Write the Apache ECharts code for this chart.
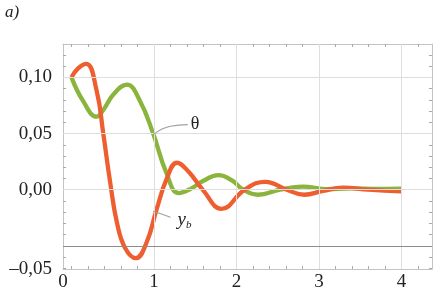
<!DOCTYPE html>
<html><head><meta charset="utf-8">
<script src="https://cdn.jsdelivr.net/npm/echarts@6/dist/echarts.min.js"></script>
<style>html,body{margin:0;padding:0;background:#fff}#c{width:436px;height:292px}</style>
</head><body><div id="c"></div>
<script>
// ---- data ----
const thetaT = [0, 0.14, 0.305, 0.385, 0.51, 0.67, 0.83, 0.99, 1.15, 1.3, 1.45, 1.6, 1.78, 1.95, 2.08, 2.26, 2.53, 2.8, 3.1, 3.4, 3.7, 4.0];
const thetaV = [0.100, 0.079, 0.065, 0.071, 0.085, 0.0935, 0.079, 0.050, 0.015, -0.003, 0.001, 0.008, 0.013, 0.008, 0.000, -0.0045, 0.000, 0.0027, 0.0005, 0.0012, 0.0008, 0.001];
const ybT = [0, 0.08, 0.18, 0.305, 0.385, 0.47, 0.55, 0.65, 0.78, 0.91, 1.03, 1.15, 1.28, 1.42, 1.59, 1.82, 2.1, 2.35, 2.61, 2.82, 3.05, 3.29, 3.6, 4.0];
const ybV = [0.100, 0.108, 0.112, 0.088, 0.050, 0.006, -0.029, -0.052, -0.061, -0.047, -0.018, 0.009, 0.024, 0.016, 0.000, -0.017, 0.000, 0.007, 0.000, -0.0045, -0.001, 0.0018, 0.000, -0.0015];

const xTickLabels = ['0', '1', '2', '3', '4'];
const yTickLabels = ['0,10', '0,05', '0,00', '\u20130,05'];
const xGridValues = [1, 2, 3, 4];
const yGridValues = [0.10, 0.05, 0.00];
const yRefValue = -0.05;
const xMin = -0.103, xMax = 4.37, yMin = -0.0706, yMax = 0.1297;

// In the reference the "0" and "–0,05" labels sit at the axis ends.
const xLabelPos = [xMin, 1, 2, 3, 4];
const yLabelPos = [0.10, 0.05, 0.00, yMin];

function steps(a, b, s) { const r = []; for (let v = a; v <= b + 1e-9; v += s) r.push(Math.round(v * 1000) / 1000); return r; }
const xTicks = steps(0, 4.2, 0.2);
const yTicks = steps(-0.07, 0.12, 0.01);

function pickLabel(pos, labels) {
  return function (v) { for (let i = 0; i < pos.length; i++) if (Math.abs(pos[i] - v) < 1e-6) return labels[i]; return ''; };
}
const zip = (a, b) => a.map((t, i) => [t, b[i]]);

const font = '"Liberation Serif", "Times New Roman", Times, serif';
const frame = '#c4c4c4';
function xAx(position, labels) {
  return {
    type: 'value', min: xMin, max: xMax, position: position,
    axisLine: { show: true, onZero: false, lineStyle: { color: frame, width: 1 } },
    axisTick: { show: true, inside: true, length: 3, customValues: xTicks, lineStyle: { color: '#aaa' } },
    axisLabel: labels ? { show: true, customValues: xLabelPos, formatter: pickLabel(xLabelPos, xTickLabels), fontFamily: font, fontSize: 19, color: '#222', margin: 4 } : { show: false },
    splitLine: { show: false }
  };
}
function yAx(position, labels) {
  return {
    type: 'value', min: yMin, max: yMax, position: position,
    axisLine: { show: true, onZero: false, lineStyle: { color: frame, width: 1 } },
    axisTick: { show: true, inside: true, length: 3, customValues: yTicks, lineStyle: { color: '#aaa' } },
    axisLabel: labels ? { show: true, customValues: yLabelPos, formatter: pickLabel(yLabelPos, yTickLabels), fontFamily: font, fontSize: 19, color: '#222', margin: 11 } : { show: false },
    splitLine: { show: false }
  };
}

const chart = echarts.init(document.getElementById('c'), null, { renderer: 'canvas' });
chart.setOption({
  animation: false,
  backgroundColor: '#fff',
  title: { text: 'a)', left: 0, top: -1, textStyle: { fontFamily: font, fontStyle: 'italic', fontWeight: 'normal', fontSize: 17, color: '#222' } },
  grid: { left: 63, right: 4, top: 44, bottom: 21 },
  xAxis: [xAx('bottom', true), xAx('top', false)],
  yAxis: [yAx('left', true), yAx('right', false)],
  series: [
    {
      type: 'line', name: 'grid', z: 1, data: [[0, 0]], symbol: 'none', lineStyle: { opacity: 0 }, silent: true,
      markLine: {
        silent: true, symbol: 'none', label: { show: false }, animation: false,
        lineStyle: { color: '#dedede', width: 1, type: 'solid' },
        data: xGridValues.map(v => ({ xAxis: v })).concat(yGridValues.map(v => ({ yAxis: v })))
          .concat([{ yAxis: yRefValue, lineStyle: { color: '#8c8c8c', width: 1, type: 'solid' } }])
      }
    },
    {
      type: 'line', name: 'θ', z: 3, data: zip(thetaT, thetaV), smooth: 0.45, symbol: 'none',
      lineStyle: { color: '#8bb43c', width: 4.3 }
    },
    {
      type: 'line', name: 'yb', z: 4, data: zip(ybT, ybV), smooth: 0.45, symbol: 'none',
      lineStyle: { color: '#ee5e2e', width: 4.3 }
    },
    {
      type: 'line', z: 5, smooth: 0.5, symbol: 'none', silent: true,
      lineStyle: { color: '#a0a0a0', width: 1.2 },
      data: [[0.99, 0.049], [1.2, 0.0565], [1.41, 0.058]],
      endLabel: { show: true, distance: 3, formatter: 'θ', fontFamily: font, fontSize: 18, color: '#222' }
    },
    {
      type: 'line', z: 5, smooth: 0.3, symbol: 'none', silent: true,
      lineStyle: { color: '#a0a0a0', width: 1.2 },
      data: [[0.99, -0.019], [1.2, -0.0245]],
      endLabel: {
        show: true, distance: 6, offset: [1, 3], formatter: '{y|y}{b|b}',
        rich: { y: { fontFamily: font, fontStyle: 'italic', fontSize: 19, color: '#222' }, b: { fontFamily: font, fontStyle: 'italic', fontSize: 11, color: '#222', padding: [9, 0, 0, 0] } }
      }
    }
  ]
});
</script></body></html>
